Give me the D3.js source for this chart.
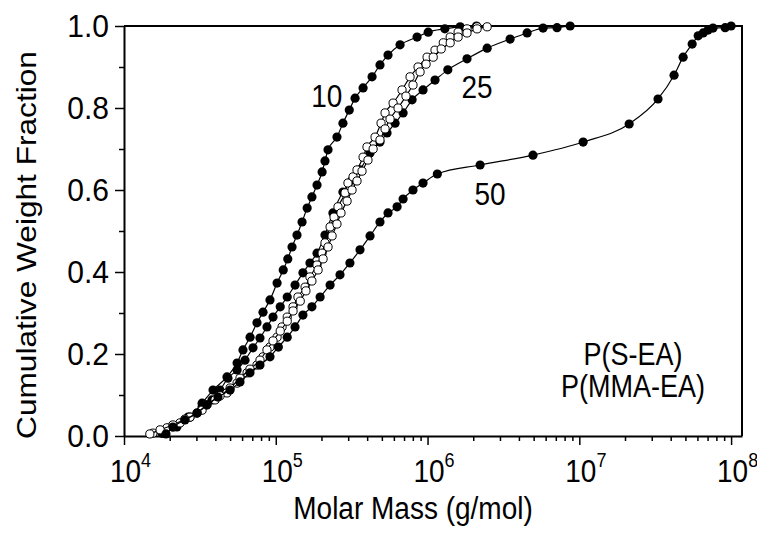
<!DOCTYPE html>
<html>
<head>
<meta charset="utf-8">
<script src="https://cdn.jsdelivr.net/npm/d3@7"></script>
<style>
  body { margin: 0; background: #fff; }
  svg { display: block; font-family: "Liberation Sans", Arial, sans-serif; }
</style>
</head>
<body>
<svg id="chart" width="757" height="534"></svg>
<script>
// Data: molar mass (g/mol) vs cumulative weight fraction.
// P(S-EA), 10
const s10Mass = [1.81e4, 2.23e4, 2.72e4, 3.27e4, 3.86e4, 4.77e4, 5.56e4, 6.08e4, 6.77e4, 7.52e4,
  8.24e4, 9.16e4, 1.02e5, 1.12e5, 1.20e5, 1.28e5, 1.38e5, 1.49e5, 1.61e5, 1.73e5, 1.87e5,
  2.02e5, 2.11e5, 2.21e5, 2.53e5, 2.77e5, 3.05e5, 3.33e5, 3.76e5, 4.31e5, 4.86e5, 5.49e5,
  6.59e5, 8.53e5, 1.01e6, 1.30e6, 1.64e6, 2.10e6];
const s10Frac = [0.007, 0.022, 0.046, 0.080, 0.112, 0.144, 0.178, 0.210, 0.241, 0.276,
  0.302, 0.332, 0.373, 0.405, 0.432, 0.461, 0.490, 0.522, 0.556, 0.583, 0.612,
  0.644, 0.671, 0.698, 0.729, 0.763, 0.795, 0.824, 0.849, 0.876, 0.905, 0.929,
  0.954, 0.973, 0.985, 0.993, 0.998, 1.0];

// P(S-EA), 25
const s25Mass = [1.78e4, 2.10e4, 2.64e4, 3.27e4, 3.80e4, 4.29e4, 4.84e4, 5.56e4, 6.27e4, 7.08e4,
  7.87e4, 8.75e4, 9.59e4, 1.07e5, 1.19e5, 1.34e5, 1.51e5, 1.68e5, 1.87e5, 2.11e5, 2.38e5,
  2.77e5, 3.18e5, 3.59e5, 4.18e5, 4.86e5, 5.41e5, 6.11e5, 6.90e5, 7.91e5, 9.34e5, 1.12e6,
  1.36e6, 1.82e6, 2.47e6, 3.50e6, 4.53e6, 5.77e6, 7.13e6, 8.70e6];
const s25Frac = [0.007, 0.022, 0.046, 0.071, 0.088, 0.112, 0.141, 0.161, 0.185, 0.215,
  0.239, 0.266, 0.290, 0.315, 0.339, 0.368, 0.398, 0.422, 0.446, 0.490, 0.544,
  0.595, 0.624, 0.649, 0.690, 0.717, 0.739, 0.763, 0.788, 0.820, 0.844, 0.868,
  0.893, 0.920, 0.946, 0.968, 0.983, 0.995, 0.996, 1.0];

// P(S-EA), 50
const s50Mass = [1.89e4, 2.10e4, 2.52e4, 3.03e4, 3.52e4, 4.16e4, 5.00e4, 5.81e4, 6.76e4, 7.87e4,
  9.16e4, 1.04e5, 1.19e5, 1.34e5, 1.51e5, 1.73e5, 1.96e5, 2.28e5, 2.65e5, 3.08e5, 3.59e5,
  4.18e5, 4.86e5, 5.49e5, 6.30e5, 6.90e5, 8.02e5, 9.34e5, 1.16e6, 2.22e6, 4.95e6, 1.06e7,
  2.13e7, 3.30e7, 4.21e7, 4.83e7, 5.54e7, 6.07e7, 6.55e7, 7.05e7, 7.60e7, 9.14e7, 1.0e8];
const s50Frac = [0.005, 0.022, 0.039, 0.056, 0.076, 0.095, 0.112, 0.132, 0.154, 0.173,
  0.193, 0.217, 0.241, 0.266, 0.295, 0.315, 0.339, 0.368, 0.393, 0.422, 0.454,
  0.488, 0.522, 0.544, 0.559, 0.578, 0.600, 0.617, 0.639, 0.661, 0.685, 0.717,
  0.761, 0.822, 0.880, 0.924, 0.956, 0.976, 0.983, 0.990, 0.995, 0.996, 1.0];

// P(MMA-EA), first sample (open circles)
const mAMass = [1.55e4, 1.92e4, 2.34e4, 2.72e4, 3.27e4, 3.98e4, 4.77e4, 5.56e4, 6.47e4, 7.52e4,
  8.24e4, 9.16e4, 1.02e5, 1.10e5, 1.19e5, 1.30e5, 1.40e5, 1.56e5, 1.68e5, 1.87e5, 2.02e5,
  2.11e5, 2.28e5, 2.42e5, 2.57e5, 2.86e5, 2.99e5, 3.23e5, 3.43e5, 3.76e5, 3.99e5, 4.51e5,
  4.94e5, 5.25e5, 5.93e5, 6.79e5, 7.67e5, 8.66e5, 9.93e5, 1.12e6, 1.27e6, 1.41e6, 1.59e6,
  1.82e6, 2.12e6];
const mAFrac = [0.007, 0.020, 0.032, 0.046, 0.063, 0.088, 0.105, 0.129, 0.154, 0.173,
  0.193, 0.217, 0.241, 0.266, 0.290, 0.315, 0.339, 0.363, 0.388, 0.417, 0.446,
  0.471, 0.510, 0.534, 0.559, 0.593, 0.617, 0.632, 0.649, 0.680, 0.705, 0.729,
  0.763, 0.788, 0.812, 0.844, 0.876, 0.900, 0.924, 0.941, 0.959, 0.973, 0.985,
  0.993, 0.998];

// P(MMA-EA), second sample (open circles)
const mBMass = [1.48e4, 1.73e4, 2.10e4, 2.52e4, 3.03e4, 3.52e4, 4.29e4, 5.00e4, 5.81e4, 6.76e4,
  7.87e4, 8.75e4, 9.59e4, 1.07e5, 1.19e5, 1.30e5, 1.45e5, 1.58e5, 1.73e5, 1.90e5, 2.05e5,
  2.21e5, 2.35e5, 2.53e5, 2.69e5, 2.95e5, 3.18e5, 3.43e5, 3.70e5, 4.05e5, 4.38e5, 4.86e5,
  5.25e5, 5.66e5, 6.39e5, 7.21e5, 8.02e5, 8.93e5, 9.78e5, 1.09e6, 1.23e6, 1.41e6, 1.59e6,
  1.82e6, 2.12e6, 2.47e6];
const mBFrac = [0.005, 0.015, 0.027, 0.041, 0.056, 0.076, 0.098, 0.117, 0.141, 0.163,
  0.185, 0.210, 0.232, 0.256, 0.280, 0.305, 0.329, 0.354, 0.378, 0.405, 0.432,
  0.461, 0.488, 0.517, 0.544, 0.573, 0.600, 0.622, 0.646, 0.673, 0.700, 0.722,
  0.749, 0.773, 0.800, 0.829, 0.856, 0.888, 0.907, 0.924, 0.944, 0.959, 0.973,
  0.983, 0.993, 0.998];

// Tick values
const massTicks = [1e4, 1e5, 1e6, 1e7, 1e8];
const fracTicks = [0, 0.2, 0.4, 0.6, 0.8, 1.0];
const fracMinorTicks = [0.1, 0.3, 0.5, 0.7, 0.9];

// Curve labels and legend text
const curveLabels = ["10", "25", "50"];
const curveLabelMass = [2.17e5, 2.12e6, 2.58e6];
const curveLabelFrac = [0.802, 0.824, 0.563];
const legendLines = ["P(S-EA)", "P(MMA-EA)"];

// Layout of the plot box.
const plotLeft = 124, plotRight = 742, plotTop = 26, plotBottom = 436;
const fontSize = 28;
// The original's lettering is a little taller than it is wide.
const stretch = 1.13;

const svg = d3.select("#chart");

const x = d3.scaleLog().domain([1e4, 1.18e8]).range([plotLeft, plotRight]);
const y = d3.scaleLinear().domain([0, 1]).range([plotBottom, plotTop]);

// Adds a text at (tx, ty), stretched vertically around its baseline point.
function addText(parent, tx, ty, str, size, rotate) {
  return parent.append("text")
    .attr("transform", `translate(${tx},${ty}) scale(1,${stretch})` + (rotate ? ` rotate(${rotate})` : ""))
    .attr("text-anchor", "middle")
    .attr("font-size", size)
    .text(str);
}

// Minor x ticks: 2..9 times each decade, inside the domain.
const massMinorTicks = [];
massTicks.forEach(d => {
  for (let k = 2; k <= 9; k++) {
    if (d * k <= x.domain()[1]) massMinorTicks.push(d * k);
  }
});

// Minor ticks first so the major ones sit on top.
svg.append("g")
  .attr("transform", `translate(0,${plotBottom})`)
  .call(d3.axisBottom(x).tickValues(massMinorTicks).tickSize(5).tickSizeOuter(0).tickFormat(""))
  .call(g => g.select(".domain").remove())
  .call(g => g.selectAll("line").attr("stroke-width", 1.5));

svg.append("g")
  .attr("transform", `translate(${plotLeft},0)`)
  .call(d3.axisLeft(y).tickValues(fracMinorTicks).tickSize(5).tickSizeOuter(0).tickFormat(""))
  .call(g => g.select(".domain").remove())
  .call(g => g.selectAll("line").attr("stroke-width", 1.5));

// Major x axis with 10^n labels
const gX = svg.append("g")
  .attr("transform", `translate(0,${plotBottom})`)
  .call(d3.axisBottom(x).tickValues(massTicks).tickSize(9).tickSizeOuter(0));
gX.select(".domain").attr("stroke-width", 2);
gX.selectAll("line").attr("stroke-width", 1.5);
gX.selectAll(".tick text")
  .attr("font-size", fontSize)
  .attr("fill", "#000")
  .attr("y", 41)
  .attr("dy", 0)
  .attr("transform", `scale(1,${stretch})`)
  .text(null)
  .each(function(d) {
    const t = d3.select(this);
    t.append("tspan").text("10");
    t.append("tspan")
      .attr("font-size", 18)
      .attr("dy", "-0.75em")
      .text(Math.round(Math.log10(d)));
  });
gX.selectAll(".tick text").attr("x", 6);

// Major y axis
const gY = svg.append("g")
  .attr("transform", `translate(${plotLeft},0)`)
  .call(d3.axisLeft(y).tickValues(fracTicks).tickSize(9).tickSizeOuter(0).tickPadding(6)
    .tickFormat(d3.format(".1f")));
gY.select(".domain").attr("stroke-width", 2);
gY.selectAll("line").attr("stroke-width", 1.5);
gY.selectAll(".tick text")
  .attr("font-size", 30)
  .attr("fill", "#000")
  .attr("transform", "scale(1,1.06)");

// Top and right frame lines
svg.append("path")
  .attr("d", `M${plotLeft},${plotTop}H${plotRight}V${plotBottom}`)
  .attr("fill", "none")
  .attr("stroke", "#000")
  .attr("stroke-width", 2);

// Axis titles
addText(svg, 413, 519, "Molar Mass (g/mol)", fontSize);
addText(svg, 36, 245, "Cumulative Weight Fraction", fontSize, -90);

// Series
const series = [
  { mass: s10Mass, frac: s10Frac, open: false },
  { mass: s25Mass, frac: s25Frac, open: false },
  { mass: mAMass, frac: mAFrac, open: true },
  { mass: mBMass, frac: mBFrac, open: true },
  { mass: s50Mass, frac: s50Frac, open: false }
];

const line = d3.line()
  .x(d => x(d[0]))
  .y(d => y(d[1]))
  .curve(d3.curveMonotoneX);

const plot = svg.append("g");

series.forEach(s => {
  const pts = s.mass.map((m, i) => [m, s.frac[i]]);
  plot.append("path")
    .datum(pts)
    .attr("d", line)
    .attr("fill", "none")
    .attr("stroke", "#000")
    .attr("stroke-width", 1.2);
  plot.append("g")
    .selectAll("circle")
    .data(pts)
    .join("circle")
    .attr("cx", d => x(d[0]))
    .attr("cy", d => y(d[1]))
    .attr("r", s.open ? 4.1 : 4.6)
    .attr("fill", s.open ? "#fff" : "#000")
    .attr("stroke", "#000")
    .attr("stroke-width", s.open ? 1 : 0);
});

// Curve labels
const labels = svg.append("g");
curveLabels.forEach((d, i) => {
  addText(labels, x(curveLabelMass[i]), y(curveLabelFrac[i]), d, fontSize);
});

// Legend text
const legend = svg.append("g");
legendLines.forEach((d, i) => {
  addText(legend, 633, 365 + i * 32, d, 27);
});
</script>
</body>
</html>
